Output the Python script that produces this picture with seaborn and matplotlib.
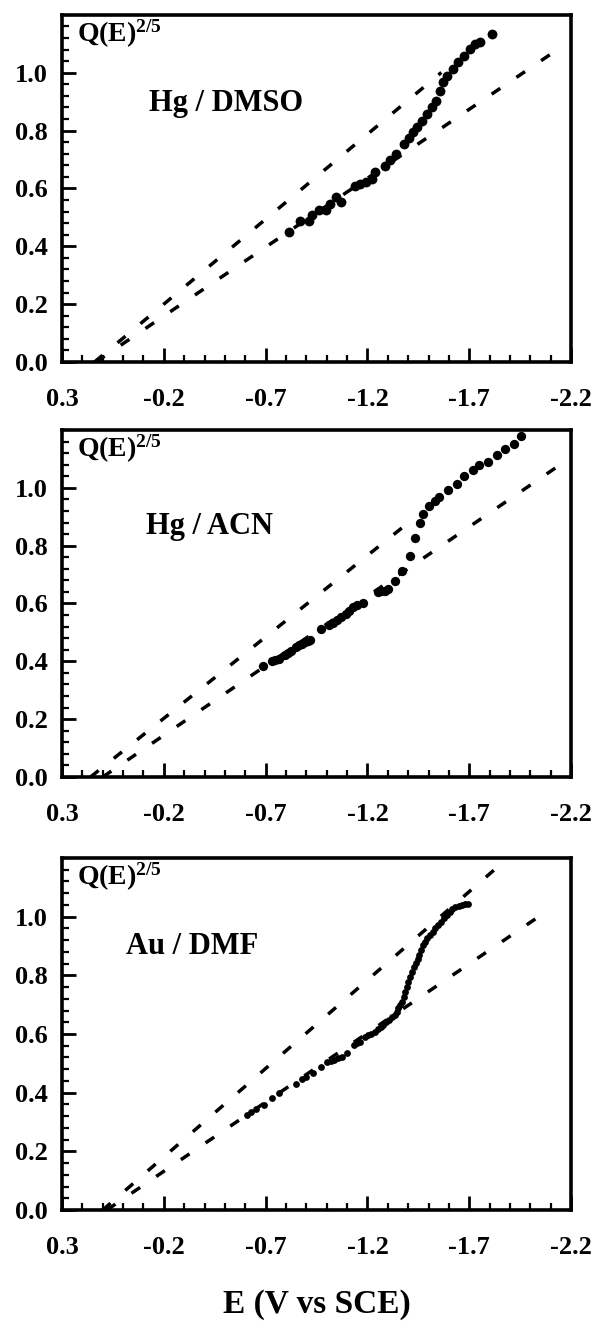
import numpy as np
import pandas as pd
import seaborn as sns
import matplotlib.pyplot as plt
from matplotlib.ticker import MultipleLocator

# Hg / DMSO
dmso_e = [-0.813, -0.869, -0.915, -0.928, -0.961, -0.994, -1.017, -1.044, -1.069,
          -1.137, -1.165, -1.193, -1.220, -1.239, -1.285, -1.313, -1.341, -1.378,
          -1.406, -1.424, -1.443, -1.470, -1.494, -1.517, -1.535, -1.554, -1.572,
          -1.591, -1.619, -1.646, -1.674, -1.702, -1.730, -1.754, -1.813]
dmso_q = [0.449, 0.487, 0.487, 0.507, 0.524, 0.524, 0.545, 0.570, 0.553,
          0.608, 0.614, 0.622, 0.633, 0.656, 0.679, 0.697, 0.720, 0.754,
          0.775, 0.794, 0.811, 0.834, 0.857, 0.883, 0.903, 0.938, 0.967,
          0.990, 1.013, 1.036, 1.059, 1.082, 1.099, 1.108, 1.133]
dmso_fit_a_e = [0.14, -1.563]
dmso_fit_a_q = [0.0, 1.001]
dmso_fit_b_e = [0.133, -2.137]
dmso_fit_b_q = [0.0, 1.082]

# Hg / ACN
acn_e = [-0.689, -0.730, -0.745, -0.767, -0.795, -0.810, -0.823, -0.851, -0.865,
         -0.879, -0.895, -0.907, -0.920, -0.972, -1.009, -1.030, -1.052, -1.070,
         -1.093, -1.110, -1.130, -1.150, -1.177, -1.251, -1.265, -1.288, -1.300,
         -1.335, -1.372, -1.409, -1.434, -1.456, -1.475, -1.503, -1.531, -1.553,
         -1.596, -1.639, -1.676, -1.717, -1.750, -1.791, -1.838, -1.875, -1.922,
         -1.955]
acn_q = [0.383, 0.401, 0.405, 0.409, 0.421, 0.430, 0.436, 0.450, 0.455,
         0.461, 0.468, 0.472, 0.475, 0.513, 0.524, 0.533, 0.544, 0.555,
         0.564, 0.575, 0.587, 0.595, 0.602, 0.639, 0.642, 0.644, 0.650,
         0.679, 0.711, 0.765, 0.828, 0.880, 0.911, 0.936, 0.954, 0.968,
         0.991, 1.014, 1.040, 1.060, 1.078, 1.089, 1.115, 1.135, 1.151,
         1.180]
acn_fit_a_e = [0.16, -1.42]
acn_fit_a_q = [0.0, 0.89]
acn_fit_b_e = [0.10, -2.182]
acn_fit_b_q = [0.0, 1.097]

# Au / DMF
dmf_e = [-0.609, -0.628, -0.655, -0.693, -0.730, -0.767, -0.851, -0.878, -0.897,
         -0.934, -0.971, -1.003, -1.020, -1.036, -1.055, -1.074, -1.101, -1.133,
         -1.148, -1.163, -1.189, -1.205, -1.219, -1.235, -1.250, -1.265, -1.278,
         -1.292, -1.306, -1.320, -1.334, -1.343, -1.352, -1.362, -1.371, -1.379,
         -1.386, -1.393, -1.399, -1.408, -1.417, -1.427, -1.436, -1.446, -1.455,
         -1.464, -1.473, -1.483, -1.492, -1.506, -1.520, -1.534, -1.548, -1.562,
         -1.575, -1.589, -1.603, -1.617, -1.631, -1.648, -1.665, -1.680, -1.696]
dmf_q = [0.324, 0.335, 0.343, 0.358, 0.381, 0.398, 0.430, 0.445, 0.452,
         0.466, 0.486, 0.506, 0.509, 0.511, 0.517, 0.523, 0.536, 0.563,
         0.568, 0.574, 0.591, 0.596, 0.600, 0.608, 0.616, 0.624, 0.631,
         0.640, 0.648, 0.657, 0.665, 0.676, 0.688, 0.699, 0.710, 0.727,
         0.744, 0.761, 0.778, 0.795, 0.813, 0.827, 0.841, 0.855, 0.869,
         0.886, 0.903, 0.914, 0.926, 0.937, 0.949, 0.960, 0.972, 0.983,
         0.994, 1.006, 1.017, 1.025, 1.032, 1.036, 1.040, 1.042, 1.043]
dmf_fit_a_e = [0.10, -1.84]
dmf_fit_a_q = [0.0, 1.17]
dmf_fit_b_e = [0.08, -2.077]
dmf_fit_b_q = [0.0, 1.017]

panel_names = ['Hg / DMSO', 'Hg / ACN', 'Au / DMF']
x_ticks = [0.3, -0.2, -0.7, -1.2, -1.7, -2.2]
y_ticks = [0.0, 0.2, 0.4, 0.6, 0.8, 1.0]

panels = [
    (dmso_e, dmso_q, dmso_fit_a_e, dmso_fit_a_q, dmso_fit_b_e, dmso_fit_b_q, 50),
    (acn_e, acn_q, acn_fit_a_e, acn_fit_a_q, acn_fit_b_e, acn_fit_b_q, 45),
    (dmf_e, dmf_q, dmf_fit_a_e, dmf_fit_a_q, dmf_fit_b_e, dmf_fit_b_q, 24),
]
label_pos = [(0.170, 0.745), (0.166, 0.723), (0.126, 0.748)]

sns.set_style('ticks')
plt.rcParams['font.family'] = ['Liberation Serif', 'DejaVu Serif']
plt.rcParams['font.weight'] = 'bold'
plt.rcParams['text.color'] = 'black'
plt.rcParams['xtick.color'] = 'black'
plt.rcParams['ytick.color'] = 'black'
plt.rcParams['axes.unicode_minus'] = False
plt.rcParams['mathtext.fontset'] = 'custom'
plt.rcParams['mathtext.rm'] = 'Liberation Serif:bold'
plt.rcParams['mathtext.it'] = 'Liberation Serif:bold'
plt.rcParams['mathtext.bf'] = 'Liberation Serif:bold'

fig = plt.figure(figsize=(5.92, 13.21), dpi=100)
boxes = [[0.1047, 0.7260, 0.860, 0.2627],
         [0.1047, 0.4118, 0.860, 0.2627],
         [0.1047, 0.0840, 0.860, 0.2665]]

for i, (e, q, ae, aq, be, bq, msize) in enumerate(panels):
    ax = fig.add_axes(boxes[i])
    pts = pd.DataFrame({'E': e, 'Q': q})
    fit_a = pd.DataFrame({'E': ae, 'Q': aq})
    fit_b = pd.DataFrame({'E': be, 'Q': bq})
    for fit in (fit_a, fit_b):
        sns.lineplot(data=fit, x='E', y='Q', ax=ax, color='black', lw=2.5,
                     linestyle=(0, (3.0, 5.6)), sort=False)
    sns.scatterplot(data=pts, x='E', y='Q', ax=ax, color='black', s=msize,
                    linewidth=0, zorder=3)

    ax.set_xlim(0.3, -2.2)
    ax.set_ylim(0.0, 1.2)
    ax.set_xticks(x_ticks)
    ax.set_xticklabels(['%.1f' % v for v in x_ticks])
    ax.set_yticks(y_ticks)
    ax.set_yticklabels(['%.1f' % v for v in y_ticks])
    ax.xaxis.set_minor_locator(MultipleLocator(0.1))
    ax.yaxis.set_minor_locator(MultipleLocator(0.04))
    ax.tick_params(which='major', direction='in', length=10, width=2,
                   labelsize=19, top=False, right=False)
    ax.tick_params(which='minor', direction='in', length=5, width=1.6,
                   top=False, right=False)
    ax.tick_params(axis='x', which='major', pad=19)
    ax.tick_params(axis='y', which='major', pad=10)
    for lab in ax.get_xticklabels() + ax.get_yticklabels():
        lab.set_fontweight('bold')
    for sp in ax.spines.values():
        sp.set_linewidth(2.6)
        sp.set_color('black')
    ax.set_xlabel('')
    ax.set_ylabel('')

    ax.text(0.030, 0.945, r'$\mathrm{Q(E)}^{\mathrm{2/5}}$', transform=ax.transAxes,
            fontsize=20, va='center', ha='left')
    ax.text(label_pos[i][0], label_pos[i][1], panel_names[i], transform=ax.transAxes,
            fontsize=22, fontweight='bold', va='center', ha='left')

fig.text(0.535, 1 - 1305 / 1321, 'E (V vs SCE)', fontsize=24, fontweight='bold',
         ha='center', va='center')

plt.savefig('out.png', dpi=100)
plt.close()
